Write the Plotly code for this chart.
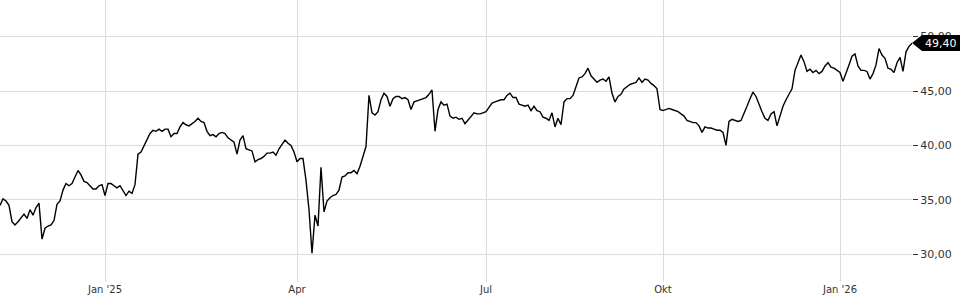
import plotly.graph_objects as go

# Closing-price samples (EUR) at equal time steps
prices = [
    34.5, 35.1, 34.9, 34.5, 33.0, 32.7, 33.0, 33.3, 33.7, 33.3,
    34.1, 33.6, 34.3, 34.7, 31.4, 32.4, 32.6, 32.7, 33.1, 34.6,
    34.9, 35.9, 36.5, 36.3, 36.5, 37.1, 37.7, 37.3, 36.7, 36.6,
    36.3, 36.0, 36.0, 36.3, 36.4, 35.4, 36.5, 36.5, 36.3, 36.1,
    36.3, 35.9, 35.4, 35.8, 35.6, 36.4, 39.2, 39.4, 40.0, 40.5,
    41.1, 41.4, 41.3, 41.5, 41.3, 41.5, 41.5, 40.8, 41.1, 41.1,
    41.7, 42.1, 41.9, 41.8, 42.0, 42.2, 42.5, 42.2, 42.1, 41.3,
    40.9, 41.0, 40.8, 41.1, 41.2, 41.1, 40.7, 40.5, 40.3, 39.2,
    40.5, 40.9, 39.7, 39.6, 39.5, 38.5, 38.7, 38.8, 39.0, 39.3,
    39.3, 39.4, 39.1, 39.7, 40.1, 40.5, 40.2, 40.0, 39.4, 38.5,
    38.8, 38.8, 36.8, 34.1, 30.1, 33.6, 32.6, 38.0, 33.9, 34.9,
    35.2, 35.4, 35.5, 35.9, 37.1, 37.2, 37.5, 37.5, 37.7, 37.4,
    38.1, 38.9, 39.9, 44.6, 43.0, 42.8, 43.1, 44.2, 44.8, 44.5,
    43.6, 44.3, 44.5, 44.5, 44.3, 44.4, 44.2, 43.3, 44.0, 44.1,
    44.2, 44.3, 44.4, 44.7, 45.1, 41.3, 43.3, 44.0, 43.7, 43.8,
    42.7, 42.5, 42.6, 42.4, 42.5, 42.0, 42.3, 42.7, 43.0, 42.9,
    42.9, 43.0, 43.1, 43.5, 43.9, 44.0, 44.1, 44.2, 44.2, 44.6,
    44.8, 44.4, 44.4, 43.8, 43.7, 43.6, 43.7, 43.2, 43.6, 43.2,
    43.1, 42.6, 42.5, 42.3, 43.0, 41.7, 42.5, 41.9, 44.0, 44.3,
    44.3, 44.6, 45.4, 46.2, 46.3, 46.6, 47.1, 46.4, 46.1, 45.8,
    46.0, 46.1, 45.9, 46.3, 44.8, 44.0, 44.5, 44.7, 45.2, 45.4,
    45.6, 45.7, 45.8, 46.2, 45.8, 46.1, 46.0, 45.7, 45.5, 45.2,
    43.3, 43.2, 43.3, 43.4, 43.3, 43.2, 43.1, 42.9, 42.7, 42.3,
    42.2, 42.1, 42.1, 41.8, 41.2, 41.7, 41.6, 41.6, 41.5, 41.4,
    41.4, 41.2, 40.0, 42.2, 42.4, 42.3, 42.2, 42.3, 42.9, 43.6,
    44.3, 44.9, 44.5, 43.7, 43.1, 42.5, 42.3, 42.9, 43.1, 41.8,
    42.7, 43.6, 44.2, 44.7, 45.2, 46.9, 47.7, 48.3, 47.7, 46.8,
    47.0, 46.7, 46.9, 46.6, 46.8, 47.3, 47.6, 47.2, 47.1, 46.9,
    46.7, 45.9, 46.6, 47.4, 48.2, 48.4, 47.3, 46.9, 46.9, 46.8,
    46.1, 46.6, 47.4, 48.9, 48.3, 48.0, 47.1, 47.0, 46.7, 47.6,
    48.1, 46.8, 48.6, 49.1, 49.4,
]
steps = list(range(len(prices)))

# Quarter starts (sample index) and their labels
tick_steps = [35, 99, 162, 221, 280]
tick_labels = ["Jan '25", "Apr", "Jul", "Okt", "Jan '26"]

price_ticks = [30, 35, 40, 45, 50]
last_price = prices[-1]

FONT = "DejaVu Sans"

fig = go.Figure()
fig.add_trace(go.Scatter(
    x=steps, y=prices, mode="lines",
    line=dict(color="#000000", width=1.4),
    hoverinfo="skip", showlegend=False,
))

fig.update_layout(
    width=960, height=300,
    margin=dict(l=0, r=48, t=0, b=18),
    paper_bgcolor="#ffffff", plot_bgcolor="#ffffff",
    separators=",.",
    font=dict(family=FONT, size=11, color="#333333"),
    showlegend=False,
)
fig.update_xaxes(
    range=[0, len(prices) - 1],
    tickmode="array", tickvals=tick_steps, ticktext=tick_labels,
    showgrid=True, gridcolor="#dcdcdc", gridwidth=1,
    zeroline=False, showline=False,
    ticks="", ticklen=0,
    tickfont=dict(family=FONT, size=10, color="#333333"),
)
fig.update_yaxes(
    side="right",
    range=[27.46, 53.36],
    tickmode="array", tickvals=price_ticks, tickformat=".2f",
    showgrid=True, gridcolor="#dcdcdc", gridwidth=1,
    zeroline=False, showline=False,
    ticks="outside", ticklen=5, tickcolor="#333333", tickwidth=1,
    tickfont=dict(family=FONT, size=11, color="#333333"),
)

# Last-price badge
fig.add_shape(
    type="path", xref="paper", yref="y",
    xsizemode="pixel", ysizemode="pixel",
    xanchor=1, yanchor=last_price,
    path="M 0 0 L 10 8 L 48 8 L 48 -8 L 10 -8 Z",
    fillcolor="#000000", line=dict(width=0), layer="above",
)
fig.add_annotation(
    xref="paper", yref="y", x=1, y=last_price,
    xanchor="left", yanchor="middle", xshift=11,
    text=f"{last_price:.2f}".replace(".", ","),
    showarrow=False,
    font=dict(family=FONT, size=11, color="#ffffff"),
)

fig.write_html("out.html")
